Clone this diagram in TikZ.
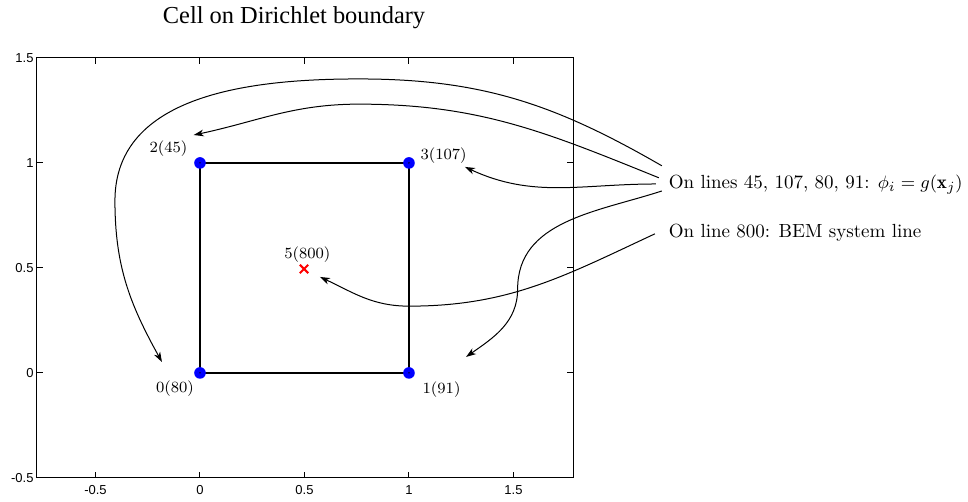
\documentclass[tikz,border=0pt]{standalone}
\usepackage{amsmath,amssymb}
\usepackage{fontspec}
\newfontfamily\titlefont{Liberation Serif}
\newfontfamily\tickfont{Liberation Sans}
\usepackage{tikz}
\usetikzlibrary{positioning,calc,arrows.meta,shapes.misc}

\begin{document}
\begin{tikzpicture}[x=104.5pt, y=105pt,
    ptlabel/.style={font=\fontsize{7.8}{9}\selectfont, inner sep=0pt},
    note/.style={font=\fontsize{9.5}{11}\selectfont, anchor=west},
    ticklbl/.style={font=\tickfont\fontsize{6.5}{8}\selectfont, inner sep=1pt},
    arr/.style={line width=0.5pt, -{Stealth[length=5pt, width=3.4pt, inset=1.5pt]}},
    dof/.style={circle, fill=blue, inner sep=0pt, minimum size=5.8pt},
    midpt/.style={cross out, draw=red, line width=1pt, inner sep=0pt, minimum size=3.2pt}]
  \useasboundingbox (-0.957,-0.614) rectangle (3.675,1.776);

  % Title
  \node[font=\titlefont\fontsize{12.2}{14}\selectfont] (title) at (0.45,1.69) {Cell on Dirichlet boundary};

  % Axes box with ticks
  \draw[line width=0.5pt] (-0.782,-0.5) rectangle (1.785,1.5);
  \foreach \t in {-0.5,0,0.5,1,1.5} {
    \draw[line width=0.5pt] (\t,-0.5) -- ++(0,0.029) (\t,1.5) -- ++(0,-0.029);
    \draw[line width=0.5pt] (-0.782,\t) -- ++(0.029,0) (1.785,\t) -- ++(-0.029,0);
    \node[ticklbl] at (\t,-0.56) {\t};
    \node[ticklbl, anchor=east] at (-0.785,\t) {\t};
  }

  % Cell
  \draw[line width=1.2pt] (0,0) -- (1,0) -- (1,1) -- (0,1) -- cycle;
  \node[dof] (p0) at (0,0) {};
  \node[dof] (p1) at (1,0) {};
  \node[dof] (p2) at (0,1) {};
  \node[dof] (p3) at (1,1) {};
  \foreach \p in {p0,p1,p2,p3} \fill (\p) circle (0.4pt);
  \node[midpt] (p5) at (0.498,0.495) {};

  % Point labels
  \node[ptlabel] (l0) at (-0.12,-0.076) {0(80)};
  \node[ptlabel] (l1) at (1.156,-0.081) {1(91)};
  \node[ptlabel] (l2) at (-0.151,1.067) {2(45)};
  \node[ptlabel] (l3) at (1.166,1.035) {3(107)};
  \node[ptlabel] (l5) at (0.514,0.565) {5(800)};

  % Notes
  \node[note] (lines) at (2.21,0.895) {On lines 45, 107, 80, 91: $\phi_i = g(\mathbf{x}_j)$};
  \node[note] (bem) at (2.21,0.667) {On line 800: BEM system line};

  % Arrow ends
  \coordinate (to0) at (-0.182,0.052);
  \coordinate (to1) at (1.273,0.076);
  \coordinate (to2) at (-0.03,1.133);
  \coordinate (to3) at (1.268,0.981);
  \coordinate (to5) at (0.574,0.457);

  % Arrows
  \draw[arr] ([yshift=9.6pt]lines.west) to[out=150, in=0] (0.76,1.40) to[out=180, in=90] (-0.407,0.82) to[out=-90, in=119] (to0);
  \draw[arr] ([xshift=-1.5pt, yshift=3.6pt]lines.west) to[out=158, in=0] (0.76,1.28) to[out=180, in=12] (to2);
  \draw[arr] ([xshift=-3pt, yshift=0.5pt]lines.west) to[out=180, in=-25] (to3);
  \draw[arr] ([yshift=-3pt]lines.west) to[out=198, in=90] (1.52,0.40) to[out=-90, in=35] (to1);
  \draw[arr] ([xshift=-3.5pt, yshift=-0.5pt]bem.west) to[out=205, in=0] (1.0,0.318) to[out=180, in=-25] (to5);
\end{tikzpicture}
\end{document}
